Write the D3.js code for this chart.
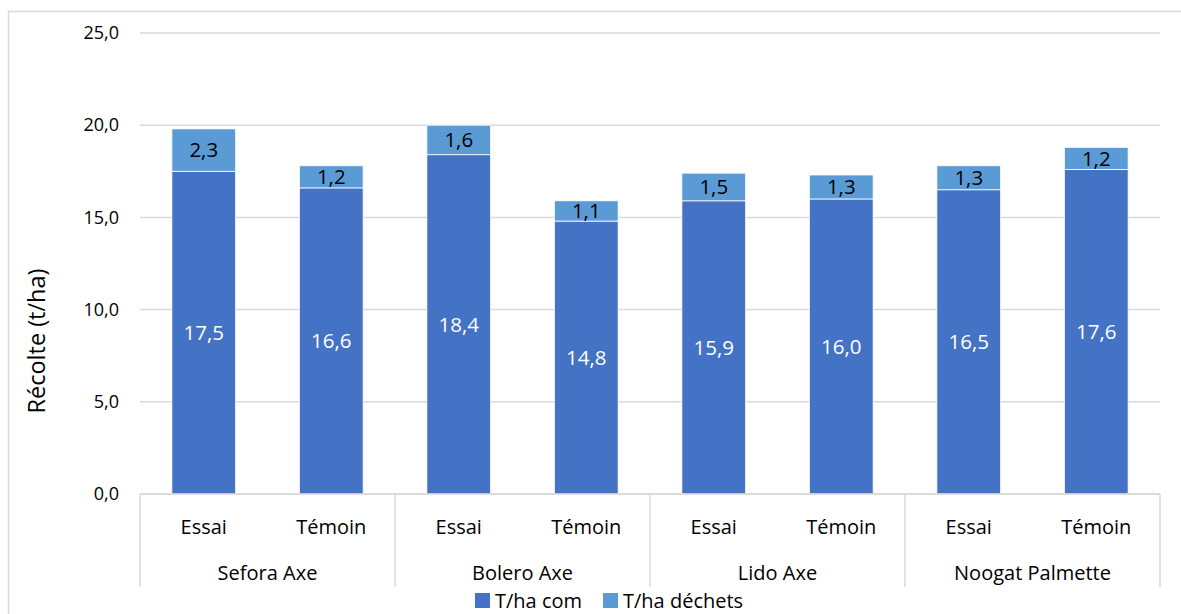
<!DOCTYPE html>
<html>
<head>
<meta charset="utf-8">
<script src="https://cdn.jsdelivr.net/npm/d3@7"></script>
<style>
  body { margin: 0; background: #fff; }
  svg text { font-family: "Open Sans", sans-serif; }
</style>
</head>
<body>
<svg id="chart" width="1181" height="614"></svg>
<script>
var groups = ["Sefora Axe", "Bolero Axe", "Lido Axe", "Noogat Palmette"];
var subs = ["Essai", "Témoin"];
var comValues = [17.5, 16.6, 18.4, 14.8, 15.9, 16.0, 16.5, 17.6];
var dechetsValues = [2.3, 1.2, 1.6, 1.1, 1.5, 1.3, 1.3, 1.2];
var seriesNames = ["T/ha com", "T/ha déchets"];
var yTicks = [0, 5, 10, 15, 20, 25];

var colors = ["#4472C4", "#5B9BD5"];
var fmt = function(v) { return d3.format(".1f")(v).replace(".", ","); };

var svg = d3.select("#chart");
var plotLeft = 140, plotRight = 1160, plotTop = 33, plotBottom = 494;

// outer frame (only top and left visible in the picture)
svg.append("path")
    .attr("d", "M8.5,614 L8.5,11.5 L1181,11.5")
    .attr("fill", "none")
    .attr("stroke", "#D9D9D9")
    .attr("stroke-width", 1.5);

// one row per bar
var rows = [];
groups.forEach(function(g, gi) {
    subs.forEach(function(s, si) {
        var i = gi * subs.length + si;
        rows.push({ key: g + "|" + s, group: g, sub: s, com: comValues[i], dechets: dechetsValues[i] });
    });
});

var x = d3.scaleBand()
    .domain(rows.map(function(d) { return d.key; }))
    .range([plotLeft, plotRight])
    .paddingInner(0.5)
    .paddingOuter(0.25);

var y = d3.scaleLinear().domain([0, 25]).range([plotBottom, plotTop]);

// gridlines
svg.append("g")
    .selectAll("line")
    .data(yTicks)
    .enter().append("line")
    .attr("x1", plotLeft).attr("x2", plotRight)
    .attr("y1", function(d) { return y(d); })
    .attr("y2", function(d) { return y(d); })
    .attr("stroke", "#D9D9D9")
    .attr("stroke-width", 1.5);

// y tick labels
var yAxis = svg.append("g")
    .attr("transform", "translate(" + 119 + ",0)")
    .call(d3.axisLeft(y).tickValues(yTicks).tickSize(0).tickPadding(0).tickFormat(fmt));
yAxis.select(".domain").remove();
yAxis.selectAll("text")
    .attr("font-size", 18)
    .attr("fill", "#000")
    .style("font-family", "'Open Sans', sans-serif");

// y title
svg.append("text")
    .attr("transform", "translate(45," + 341 + ") rotate(-90)")
    .attr("text-anchor", "middle")
    .attr("font-size", 23.5)
    .text("Récolte (t/ha)");

// stacked bars
var stack = d3.stack().keys(["com", "dechets"]);
var layers = stack(rows);

var layerG = svg.selectAll(".layer")
    .data(layers)
    .enter().append("g")
    .attr("class", "layer")
    .attr("fill", function(d, i) { return colors[i]; });

layerG.selectAll("rect")
    .data(function(d) { return d; })
    .enter().append("rect")
    .attr("x", function(d) { return x(d.data.key); })
    .attr("width", x.bandwidth())
    .attr("y", function(d) { return y(d[1]); })
    .attr("height", function(d) { return y(d[0]) - y(d[1]); })
    .attr("stroke", "#fff")
    .attr("stroke-width", 0.8);

// data labels
layerG.each(function(layer, li) {
    d3.select(this).selectAll("text")
        .data(layer)
        .enter().append("text")
        .attr("x", function(d) { return x(d.data.key) + x.bandwidth() / 2; })
        .attr("y", function(d) { return (y(d[0]) + y(d[1])) / 2; })
        .attr("dy", "0.36em")
        .attr("text-anchor", "middle")
        .attr("font-size", 20.5)
        .attr("fill", li === 0 ? "#fff" : "#000")
        .text(function(d) { return fmt(d[1] - d[0]); });
});

// base line of the category axis
svg.append("line")
    .attr("x1", plotLeft).attr("x2", plotRight)
    .attr("y1", plotBottom).attr("y2", plotBottom)
    .attr("stroke", "#D9D9D9")
    .attr("stroke-width", 1.5);

// group separators
var groupW = (plotRight - plotLeft) / groups.length;
var sepX = d3.range(groups.length + 1).map(function(i) { return plotLeft + i * groupW; });
svg.append("g")
    .selectAll("line")
    .data(sepX)
    .enter().append("line")
    .attr("x1", function(d) { return d; }).attr("x2", function(d) { return d; })
    .attr("y1", plotBottom).attr("y2", 587)
    .attr("stroke", "#D9D9D9")
    .attr("stroke-width", 1.5);

// sub labels
svg.append("g")
    .selectAll("text")
    .data(rows)
    .enter().append("text")
    .attr("x", function(d) { return x(d.key) + x.bandwidth() / 2; })
    .attr("y", 534)
    .attr("text-anchor", "middle")
    .attr("font-size", 20)
    .text(function(d) { return d.sub; });

// group labels
svg.append("g")
    .selectAll("text")
    .data(groups)
    .enter().append("text")
    .attr("x", function(d, i) { return plotLeft + (i + 0.5) * groupW; })
    .attr("y", 580)
    .attr("text-anchor", "middle")
    .attr("font-size", 20)
    .text(function(d) { return d; });

// legend
var legend = svg.append("g").attr("transform", "translate(475,593)");
var lx = [0, 128];
seriesNames.forEach(function(name, i) {
    var item = legend.append("g").attr("transform", "translate(" + lx[i] + ",0)");
    item.append("rect").attr("width", 15).attr("height", 15).attr("fill", colors[i]);
    item.append("text").attr("x", 20).attr("y", 15).attr("font-size", 20).text(name);
});
</script>
</body>
</html>
